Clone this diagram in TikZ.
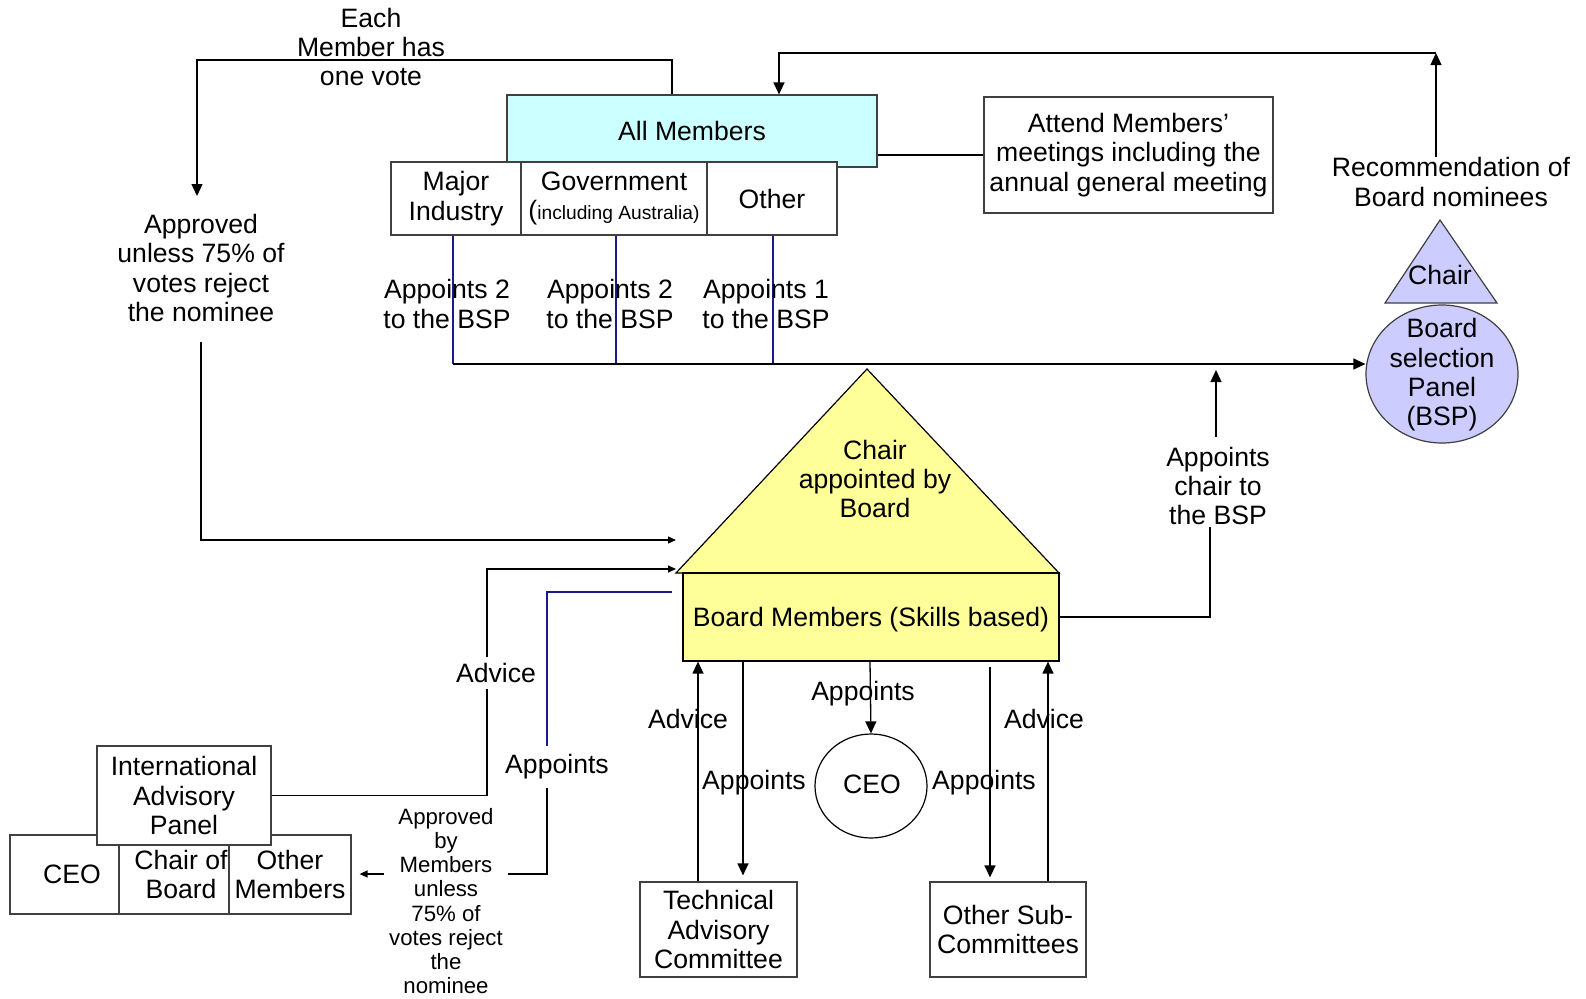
\documentclass[tikz,border=0pt]{standalone}
\usepackage{fontspec}
\setmainfont{Liberation Sans}
\usetikzlibrary{arrows.meta,shapes.geometric,calc}
\definecolor{cyanf}{HTML}{CCFFFF}
\definecolor{yelf}{HTML}{FFFF99}
\definecolor{lavf}{HTML}{CCCCFF}
\definecolor{navy}{HTML}{1A1A8C}
\definecolor{edge}{HTML}{404040}
\newcommand\mainfs{\fontsize{13.3pt}{14.7pt}\selectfont}
\newcommand\smallfs{\fontsize{11.1pt}{12.1pt}\selectfont}
\newcommand\tinyfs{\fontsize{9.6pt}{11pt}\selectfont}
\begin{document}
\begin{tikzpicture}[x=0.5pt,y=-0.5pt,font=\mainfs,
  box/.style={draw=edge,line width=0.6pt,fill=white,inner sep=0pt,align=center},
  lbl/.style={inner sep=0pt,align=center},
  conn/.style={draw=black,line width=0.65pt},
  bline/.style={draw=navy,line width=0.7pt},
  >={Triangle[length=6pt,width=5.5pt]},
  sm/.style={-{Triangle[length=4pt,width=3.5pt]}}]
\fill[white] (0,0) rectangle (1586,998);
\useasboundingbox (0,0) rectangle (1586,998);

% ---- top: members
\node[box,fill=cyanf,minimum width=185pt,minimum height=36pt] (allm) at (692,131) {All Members};
\node[box,minimum width=65pt,minimum height=36.5pt] (maj) at (456,198.5) {Major\\Industry};
\node[box,minimum width=93pt,minimum height=36.5pt] (gov) at (614,198.5) {Government\\({\tinyfs including Australia)}};
\node[box,minimum width=65pt,minimum height=36.5pt] (oth) at (772,198.5) {Other};
\node[box,minimum width=144.5pt,minimum height=58pt] (att) at (1128.5,155) {Attend Members’\\meetings including the\\annual general meeting};
\draw[conn] (allm.east |- att.west) -- (att.west);

% ---- vote
\node[lbl] (vote) at (371,47) {Each\\Member has\\one vote};
\node[lbl] (appr) at (201,268) {Approved\\unless 75\% of\\votes reject\\the nominee};
\coordinate (v1) at (672,60);
\coordinate (v2) at (197,60);
\coordinate (v3) at (197,196);
\draw[conn,->] (allm.north -| v1) -- (v1) -- (v2) -- (v3);
\coordinate (a1) at (201,342);
\coordinate (a2) at (201,540);
\coordinate (a3) at (676,540);
\draw[conn,sm] (a1) -- (a2) -- (a3);

% ---- board
\coordinate (tA) at (867,369);
\coordinate (tL) at (676,573);
\coordinate (tR) at (1059,573);
\draw[fill=yelf,line width=0.6pt] (tA) -- (tL) -- (tR) -- cycle;
\node[lbl] (chairb) at (875,479) {Chair\\appointed by\\Board};
\node[box,draw=black,fill=yelf,minimum width=188pt,minimum height=44pt,text height=9.6pt,text depth=0pt] (bm) at (871,617) {Board Members (Skills based)};

% ---- BSP
\node[ellipse,draw=edge,fill=lavf,minimum width=76pt,minimum height=69pt,inner sep=0pt,line width=0.6pt] (bsp) at (1442,374) {};
\node[lbl] (bsptxt) at (1442,375) {Board\\selection\\Panel\\(BSP)};
\coordinate (sA) at (1440,220);
\coordinate (sL) at (1385,303);
\coordinate (sR) at (1497,303);
\draw[fill=lavf,draw=edge,line width=0.6pt] (sA) -- (sL) -- (sR) -- cycle;
\node[lbl] (chs) at (1440,275) {Chair};
\node[lbl] (rec) at (1451,182) {Recommendation of\\Board nominees};
\coordinate (r1) at (1436,53);
\coordinate (r2) at (779,53);
\draw[conn,->] (r1 |- rec.north) -- (r1);
\draw[conn,->] (r1) -- (r2) -- (allm.north -| r2);

% ---- appoints to BSP
\coordinate (h1) at (453,364);
\coordinate (h2) at (616,364);
\coordinate (h3) at (773,364);
\draw[bline] (maj.south -| h1) -- (h1);
\draw[bline] (gov.south -| h2) -- (h2);
\draw[bline] (oth.south -| h3) -- (h3);
\draw[conn,->] (h1) -- (h1 -| bsp.west);
\node[lbl] (ap1) at (447,304) {Appoints 2\\to the BSP};
\node[lbl] (ap2) at (610,304) {Appoints 2\\to the BSP};
\node[lbl] (ap3) at (766,304) {Appoints 1\\to the BSP};

% ---- board to BSP chair
\node[lbl] (apch) at (1218,486) {Appoints\\chair to\\the BSP};
\coordinate (c1) at (1210,527);
\coordinate (c2) at (1216,437);
\coordinate (c3) at (1216,370);
\draw[conn] (bm.east) -| (c1);
\draw[conn,->] (c2) -- (c3);

% ---- international advisory panel
\node[box,minimum width=54.5pt,minimum height=39.5pt] (bceo) at (64.5,874.5) {\hspace*{7.5pt}CEO};
\node[box,minimum width=55pt,minimum height=39.5pt] (bchair) at (174,874.5) {\hspace*{7pt}Chair of\\\hspace*{7pt}Board};
\node[box,minimum width=61pt,minimum height=39.5pt] (bother) at (290,874.5) {Other\\Members};
\node[box,minimum width=87pt,minimum height=49.5pt] (iap) at (184,795.5) {International\\Advisory\\Panel};
\coordinate (d1) at (487,569);
\coordinate (d2) at (676,569);
\draw[conn,sm] (iap.east) -| (d1) -- (d2);
\node[lbl,fill=white,inner ysep=3pt] (adv1) at (496,673) {Advice};

\node[lbl,font=\smallfs,inner xsep=2.5pt] (apby) at (446,901) {Approved\\by\\Members\\unless\\75\% of\\votes reject\\the\\nominee};
\node[lbl,inner ysep=4pt] (appt) at (557,767) {Appoints};
\coordinate (b1) at (672,592);
\coordinate (b2) at (547,592);
\coordinate (b3) at (547,874);
\draw[bline] (b1) -- (b2) -- (b2 |- appt.north);
\draw[conn] (b2 |- appt.south) -- (b3) -- (b3 -| apby.east);
\draw[conn,sm,shorten >=4pt] (b3 -| apby.west) -- (b3 -| bother.east);

% ---- committees and CEO
\node[ellipse,draw=black,minimum width=56pt,minimum height=52pt,inner sep=0pt,line width=0.6pt] (ceo) at (871,786) {};
\node[lbl] (ceotxt) at (872,784) {CEO};
\node[box,minimum width=78.5pt,minimum height=47.5pt] (tac) at (718.5,929.5) {Technical\\Advisory\\Committee};
\node[box,minimum width=78pt,minimum height=47.5pt] (osc) at (1008,929.5) {Other Sub-\\Committees};
\coordinate (k1) at (698,0);
\coordinate (k2) at (743,0);
\coordinate (k3) at (870,0);
\coordinate (k4) at (990,0);
\coordinate (k5) at (1048,0);
\draw[conn,->] (tac.north -| k1) -- (bm.south -| k1);
\draw[conn,->,shorten >=3pt] (bm.south -| k2) -- (tac.north -| k2);
\draw[conn,->] (bm.south -| k3) -- (ceo.north);
\draw[conn,->,shorten >=2pt,shorten <=2.5pt] (bm.south -| k4) -- (osc.north -| k4);
\draw[conn,->] (osc.north -| k5) -- (bm.south -| k5);
\node[lbl] (l1) at (688,719) {Advice};
\node[lbl] (l2) at (754,783) {Appoints};
\node[lbl] (l3) at (863,694) {Appoints};
\node[lbl] (l4) at (984,783) {Appoints};
\node[lbl] (l5) at (1044,719) {Advice};
\end{tikzpicture}
\end{document}
